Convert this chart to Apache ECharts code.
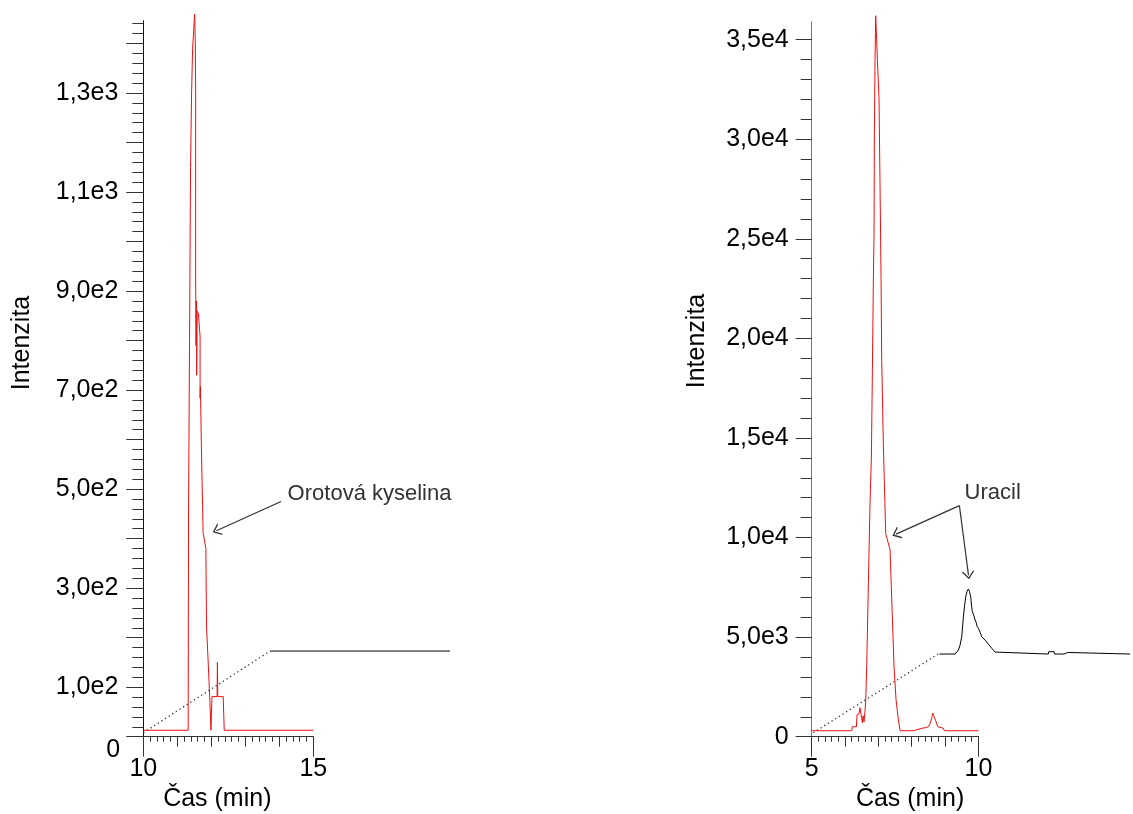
<!DOCTYPE html>
<html><head><meta charset="utf-8">
<script src="https://cdn.jsdelivr.net/npm/echarts@6/dist/echarts.min.js"></script>
<style>html,body{margin:0;padding:0;background:#fff}#c{width:1133px;height:814px}</style>
</head><body><div id="c"></div><script>
const FONT = '"Liberation Sans", Arial, sans-serif';

// ---------- Left panel (Orotová kyselina) ----------
const leftRed = [
  [10.00, 13], [11.32, 13], [11.33, 450], [11.36, 800], [11.39, 1150], [11.42, 1300], [11.45, 1390],
  [11.51, 1459], [11.53, 1400], [11.54, 1300], [11.54, 920], [11.55, 790], [11.56, 880], [11.57, 860],
  [11.57, 730], [11.58, 860], [11.62, 855], [11.66, 855], [11.67, 808], [11.67, 684], [11.68, 707],
  [11.71, 579], [11.72, 579], [11.76, 411], [11.81, 411], [11.84, 380], [11.86, 221], [11.89, 221],
  [11.90, 163], [11.95, 163], [11.96, 69], [11.98, 69], [11.99, 13], [12.01, 13], [12.02, 81],
  [12.17, 81], [12.18, 150], [12.19, 81], [12.35, 81], [12.38, 13], [15.00, 13]
];
const leftBlack = [[13.73, 173], [19.02, 173]];
const leftOffsetGuide = [[10.00, 8], [13.73, 173]];
const leftXTicks = [10, 11, 12, 13, 14, 15];
const leftXLabels = [10, 15];
const leftYMajorTicks = [0, 100, 200, 300, 400, 500, 600, 700, 800, 900, 1000, 1100, 1200, 1300, 1400];
const leftYMinorTicks = [];
for (let v = 0; v <= 1440; v += 20) leftYMinorTicks.push(v);
const leftYLabelValues = [100, 300, 500, 700, 900, 1100, 1300];
const leftYLabelTexts = ['1,0e2', '3,0e2', '5,0e2', '7,0e2', '9,0e2', '1,1e3', '1,3e3'];

// ---------- Right panel (Uracil) ----------
const rightRed = [
  [5.00, 300], [6.20, 300], [6.22, 500], [6.34, 500], [6.36, 1100], [6.42, 1150], [6.45, 1450],
  [6.48, 1450], [6.50, 900], [6.52, 700], [6.54, 1050], [6.57, 750], [6.60, 1300], [6.62, 1800],
  [6.65, 3500], [6.67, 5200], [6.70, 7700], [6.75, 11800], [6.79, 14000], [6.82, 18400],
  [6.85, 23000], [6.87, 25300], [6.88, 30300], [6.89, 32100], [6.90, 34000], [6.92, 36200],
  [6.97, 36200], [6.97, 34000], [7.02, 32000], [7.05, 27600], [7.08, 23000], [7.10, 18900],
  [7.15, 14600], [7.22, 10200], [7.25, 10000], [7.35, 9400], [7.40, 6900], [7.47, 3500],
  [7.53, 1850], [7.60, 850], [7.65, 300], [8.05, 300], [8.07, 400], [8.30, 420], [8.35, 350],
  [8.40, 450], [8.45, 400], [8.50, 500], [8.55, 650], [8.60, 950], [8.63, 1180], [8.67, 1000],
  [8.72, 800], [8.78, 500], [8.82, 450], [8.95, 420], [8.98, 300], [10.00, 300]
];
const rightBlack = [
  [8.83, 4150], [9.30, 4150], [9.35, 4200], [9.40, 4350], [9.45, 4600], [9.50, 5020], [9.55, 6020],
  [9.58, 6500], [9.62, 7030], [9.66, 7300], [9.70, 7415], [9.73, 7300], [9.77, 7030], [9.80, 6500],
  [9.82, 6275], [9.86, 6100], [9.90, 5860], [9.93, 5750], [9.96, 5550], [10.00, 5440], [10.05, 5250],
  [10.10, 5020], [10.15, 4950], [10.20, 4850], [10.25, 4770], [10.30, 4650], [10.35, 4550],
  [10.40, 4440], [10.45, 4350], [10.50, 4250], [10.55, 4150], [12.10, 4150], [12.11, 4270],
  [12.27, 4270], [12.28, 4150], [12.57, 4150], [12.59, 4230], [12.68, 4230], [12.70, 4150], [14.55, 4150]
];
const rightOffsetGuide = [[5.05, 200], [8.83, 4190]];
const rightXTicks = [5, 6, 7, 8, 9, 10];
const rightXLabels = [5, 10];
const rightYMajorTicks = [0, 5000, 10000, 15000, 20000, 25000, 30000, 35000];
const rightYMinorTicks = [];
for (let v = 0; v <= 35000; v += 1000) rightYMinorTicks.push(v);
const rightYLabelValues = [0, 5000, 10000, 15000, 20000, 25000, 30000, 35000];
const rightYLabelTexts = ['0', '5,0e3', '1,0e4', '1,5e4', '2,0e4', '2,5e4', '3,0e4', '3,5e4'];

// ---------- Annotations (data coordinates) ----------
const orotLabel = { text: 'Orotová kyselina', at: [14.23, 491] };
const orotArrow = [[14.05, 475], [12.15, 416]];
const uracilLabel = { text: 'Uracil', at: [9.57, 12240] };
const uracilArrows = [[[9.43, 11600], [7.53, 10173]], [[9.43, 11600], [9.704, 8104]]];

const arrowHead = 'path://M0,8 L6.5,0 L13,8 L11.3,8 L6.5,2.1 L1.7,8 Z';

// plot geometry: px per minute and the extended (offset-trace) x range
const LEFT_PX_PER_MIN = 34, RIGHT_PX_PER_MIN = 33.34;
const leftExtMax = 19.1, rightExtMax = 14.6;

function lookup(vals, texts) {
  return function (v) {
    for (let i = 0; i < vals.length; i++) if (Math.abs(vals[i] - v) < 1e-6) return texts[i];
    return '';
  };
}

function xAxes(grid, min, max, ticks, labels, axisColor, namePad) {
  return [
    {
      type: 'value', gridIndex: grid, min: min, max: max, interval: 1, position: 'bottom',
      axisLine: { show: true, onZero: false, lineStyle: { color: axisColor, width: 1 } },
      axisTick: { show: true, length: 10, customValues: ticks, lineStyle: { color: axisColor } },
      minorTick: { show: true, splitNumber: 5, length: 5, lineStyle: { color: axisColor } },
      axisLabel: { show: false }, splitLine: { show: false }, minorSplitLine: { show: false }
    },
    {
      type: 'value', gridIndex: grid, min: min, max: max, interval: 5, position: 'bottom',
      axisLine: { show: false, onZero: false },
      axisTick: { show: true, length: 20, customValues: labels, lineStyle: { color: axisColor } },
      axisLabel: { show: true, customValues: labels, fontSize: 25, fontFamily: FONT, color: '#000', margin: 20 },
      splitLine: { show: false },
      name: 'Čas (min)', nameLocation: 'middle', nameGap: 48,
      nameTextStyle: { fontSize: 25, fontFamily: FONT, color: '#000', padding: namePad }
    }
  ];
}

function yAxes(grid, max, majors, minors, labVals, labTexts, lineColor, tickColor, majorLen, margin) {
  return [
    {
      type: 'value', gridIndex: grid, min: 0, max: max, position: 'left',
      axisLine: { show: true, onZero: false, lineStyle: { color: lineColor, width: 1 } },
      axisTick: { show: true, length: majorLen, customValues: majors, lineStyle: { color: tickColor } },
      axisLabel: { show: true, customValues: labVals, formatter: lookup(labVals, labTexts),
                   fontSize: 25, fontFamily: FONT, color: '#000', margin: margin },
      splitLine: { show: false }
    },
    {
      type: 'value', gridIndex: grid, min: 0, max: max, position: 'left',
      axisLine: { show: false, onZero: false },
      axisTick: { show: true, length: 11, customValues: minors, lineStyle: { color: tickColor } },
      axisLabel: { show: false }, splitLine: { show: false }
    }
  ];
}

function hiddenAxis(grid, min, max) {
  return { type: 'value', gridIndex: grid, min: min, max: max, show: false,
           axisLine: { onZero: false }, splitLine: { show: false } };
}

function lineSeries(data, xi, yi, color, extra) {
  return Object.assign({
    type: 'line', data: data, xAxisIndex: xi, yAxisIndex: yi, showSymbol: false, symbol: 'none',
    clip: false, silent: true, animation: false,
    lineStyle: { color: color, width: 1 }
  }, extra || {});
}

function annotation(labelDef, arrows) {
  return {
    markLine: {
      silent: true, animation: false, symbol: ['none', arrowHead], symbolSize: [13, 8],
      label: { show: false },
      lineStyle: { color: '#333', width: 1.2, type: 'solid' },
      emphasis: { disabled: true },
      data: arrows.map(a => [{ coord: a[0] }, { coord: a[1] }])
    },
    markPoint: {
      silent: true, animation: false, symbol: 'circle', symbolSize: 1,
      itemStyle: { color: 'rgba(0,0,0,0)' },
      label: { show: true, position: 'right', distance: 0, formatter: labelDef.text,
               fontSize: 22, fontFamily: FONT, color: '#333' },
      data: [{ coord: labelDef.at, name: labelDef.text }]
    }
  };
}

const option = {
  animation: false,
  backgroundColor: '#fff',
  grid: [
    { left: 143.3, top: 20.7, width: 5 * LEFT_PX_PER_MIN, height: 716, containLabel: false, outerBoundsMode: 'none' },
    { left: 811.7, top: 21.7, width: 5 * RIGHT_PX_PER_MIN, height: 715, containLabel: false, outerBoundsMode: 'none' },
    { left: 143.3, top: 20.7, width: (leftExtMax - 10) * LEFT_PX_PER_MIN, height: 716, containLabel: false, outerBoundsMode: 'none' },
    { left: 811.7, top: 21.7, width: (rightExtMax - 5) * RIGHT_PX_PER_MIN, height: 715, containLabel: false, outerBoundsMode: 'none' }
  ],
  xAxis: [].concat(
    xAxes(0, 10, 15, leftXTicks, leftXLabels, '#333', [0, 22, 0, 0]),
    xAxes(1, 5, 10, rightXTicks, rightXLabels, '#333', [0, 0, 0, 30]),
    [hiddenAxis(2, 10, leftExtMax), hiddenAxis(3, 5, rightExtMax)]
  ),
  yAxis: [].concat(
    yAxes(0, 1446, leftYMajorTicks, leftYMinorTicks, leftYLabelValues, leftYLabelTexts, '#111', '#333', 17, 25),
    yAxes(1, 35900, rightYMajorTicks, rightYMinorTicks, rightYLabelValues, rightYLabelTexts, '#777', '#333', 16, 23),
    [hiddenAxis(2, 0, 1446), hiddenAxis(3, 0, 35900)]
  ),
  series: [
    lineSeries(leftOffsetGuide, 4, 4, '#333', { lineStyle: { color: '#333', width: 1.3, type: [1.3, 3] } }),
    lineSeries(leftBlack, 4, 4, '#000', annotation(orotLabel, [orotArrow])),
    lineSeries(leftRed, 0, 0, '#f01010'),
    lineSeries(rightOffsetGuide, 5, 5, '#333', { lineStyle: { color: '#333', width: 1.3, type: [1.3, 3] } }),
    lineSeries(rightBlack, 5, 5, '#000', annotation(uracilLabel, uracilArrows)),
    lineSeries(rightRed, 2, 2, '#f01010')
  ],
  graphic: [
    { type: 'text', x: 113.3, y: 750, silent: true,
      style: { text: '0', font: '25px ' + FONT, fill: '#000', align: 'center', verticalAlign: 'middle' } },
    { type: 'text', x: 22, y: 343, rotation: Math.PI / 2, silent: true,
      style: { text: 'Intenzita', font: '25px ' + FONT, fill: '#000', align: 'center', verticalAlign: 'middle' } },
    { type: 'text', x: 697, y: 341, rotation: Math.PI / 2, silent: true,
      style: { text: 'Intenzita', font: '25px ' + FONT, fill: '#000', align: 'center', verticalAlign: 'middle' } }
  ]
};

const chart = echarts.init(document.getElementById('c'), null, { renderer: 'canvas' });
chart.setOption(option);
</script></body></html>
